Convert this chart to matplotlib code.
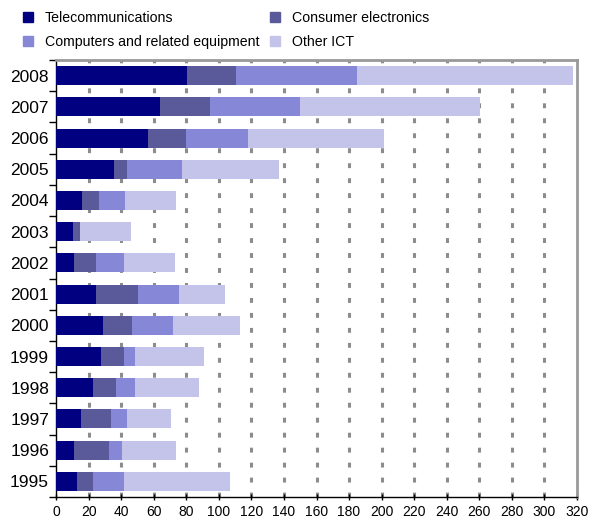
import numpy as np
import matplotlib
matplotlib.use("Agg")
from matplotlib import pyplot as plt
from matplotlib.patches import Patch

plt.rcParams['font.family'] = ['Liberation Sans', 'DejaVu Sans']

YEARS = ["1995", "1996", "1997", "1998", "1999", "2000", "2001",
         "2002", "2003", "2004", "2005", "2006", "2007", "2008"]
TELECOM = [12.9, 11.1, 15.4, 22.7, 27.6, 28.9, 24.6, 10.8, 10.4, 16.0, 35.6, 56.3, 63.9, 80.5]
CONSUMER = [9.8, 21.5, 18.4, 14.2, 14.2, 17.8, 25.8, 13.8, 4.3, 10.4, 8.0, 23.3, 30.7, 30.1]
COMPUTERS = [19.1, 7.9, 9.8, 11.6, 6.7, 25.2, 25.2, 17.2, 0.0, 16.0, 33.8, 38.3, 55.3, 74.3]
OTHER = [65.1, 33.2, 27.0, 39.3, 42.4, 41.1, 28.2, 31.3, 31.2, 31.3, 59.4, 83.6, 110.5, 132.7]

SERIES = ["Telecommunications", "Consumer electronics",
          "Computers and related equipment", "Other ICT"]
COLORS = ["#000080", "#5A5A9A", "#8787D7", "#C4C4EB"]

W, H = 589, 521
fig = plt.figure(figsize=(W / 100, H / 100), dpi=100)
ax = fig.add_axes([56 / W, 24 / H, 521 / W, 437 / H])

y = np.arange(len(YEARS))
left = np.zeros(len(YEARS))
for vals, color in zip([TELECOM, CONSUMER, COMPUTERS, OTHER], COLORS):
    ax.barh(y, vals, left=left, height=0.61, color=color, zorder=3)
    left += np.array(vals)

ax.set_xlim(0, 320)
ax.set_ylim(-0.5, len(YEARS) - 0.5)
ax.set_xticks(np.arange(0, 321, 20))
ax.set_yticks(y)
ax.set_yticklabels(YEARS, fontsize=12.5)
ax.set_yticks(np.arange(-0.5, len(YEARS), 1), minor=True)
ax.tick_params(axis='y', which='major', length=0, pad=5)
ax.tick_params(axis='y', which='minor', length=5, width=1, direction='out')
ax.tick_params(axis='x', labelsize=10, length=4, width=1, direction='inout', pad=4)

for xv in np.arange(20, 320, 20):
    ax.axvline(xv, color='#8c8c8c', lw=2.2, linestyle=(0, (1.6, 3.3)), zorder=1)

for s in ['top', 'right']:
    ax.spines[s].set_color('#999999')
    ax.spines[s].set_linewidth(2)
for s in ['left', 'bottom']:
    ax.spines[s].set_color('black')
    ax.spines[s].set_linewidth(1)

handles = [Patch(color=c, label=l) for c, l in zip(COLORS, SERIES)]
order = [0, 2, 1, 3]
fig.legend([handles[i] for i in order], [SERIES[i] for i in order],
           ncol=2, loc='upper left', bbox_to_anchor=(10 / W, 1 + 2 / H),
           frameon=False, fontsize=10.2, handlelength=0.72, handleheight=0.72,
           handletextpad=0.85, columnspacing=0.75, labelspacing=0.75)

fig.savefig("out.png", dpi=100)
